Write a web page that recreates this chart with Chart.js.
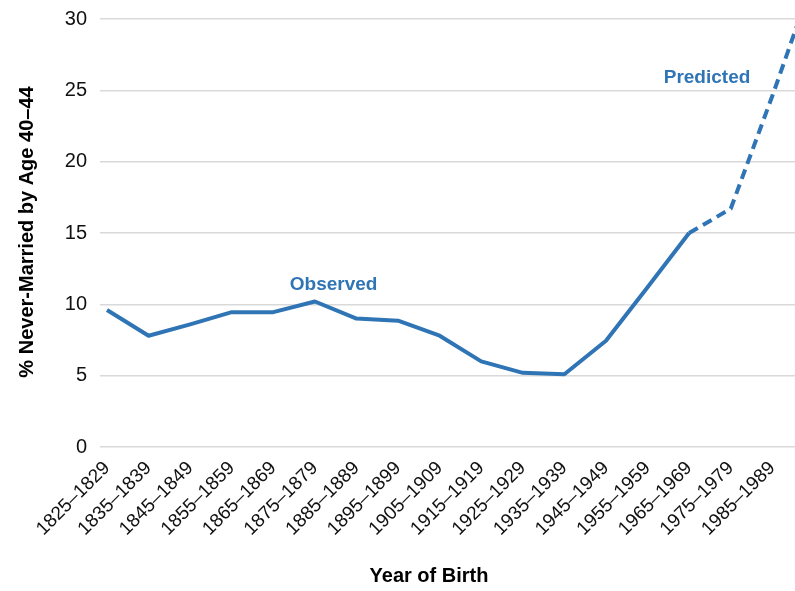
<!DOCTYPE html>
<html>
<head>
<meta charset="utf-8">
<script src="https://cdn.jsdelivr.net/npm/chart.js@4"></script>
<style>
    html, body { margin: 0; padding: 0; overflow: hidden; background: #ffffff; }
    #wrap { width: 795px; height: 591px; overflow: hidden; }
</style>
</head>
<body>
<div id="wrap">
    <canvas id="lineChart" width="832" height="591"></canvas>
</div>
<script>
// ✅ Data - birth cohorts (last one is cut off at the right edge in the original)
const cohorts = [
    "1825–1829", "1835–1839", "1845–1849", "1855–1859", "1865–1869", "1875–1879",
    "1885–1889", "1895–1899", "1905–1909", "1915–1919", "1925–1929", "1935–1939",
    "1945–1949", "1955–1959", "1965–1969", "1975–1979", "1985–1989", ""
];
const observed = [9.6, 7.8, 8.6, 9.45, 9.45, 10.2, 9.0, 8.85, 7.8, 6.0, 5.2, 5.1, 7.45, 11.2, 15.0,
    null, null, null];
const predicted = [null, null, null, null, null, null, null, null, null, null, null, null, null, null,
    15.0, 16.7, 24.6, 32.9];
const yTicks = [0, 5, 10, 15, 20, 25, 30];

// ✅ text notes placed on the data scales: [text, category position, value]
const notes = [
    ["Observed", 5.45, 11.4],
    ["Predicted", 14.43, 25.9]
];

const blue = "#2f75b5";
const font = "'Liberation Sans', Arial, Helvetica, sans-serif";

Chart.defaults.devicePixelRatio = 1;

// ✅ titles + notes drawn on top
const textPlugin = {
    id: "textPlugin",
    afterDraw(chart) {
        const c = chart.ctx;
        const x = chart.scales.x;
        const y = chart.scales.y;
        c.save();
        c.textAlign = "center";
        c.textBaseline = "middle";

        c.fillStyle = blue;
        c.font = "bold 19px " + font;
        notes.forEach(n => {
            c.fillText(n[0], x.getPixelForValue(n[1]), y.getPixelForValue(n[2]));
        });

        c.fillStyle = "#000000";
        c.font = "bold 20px " + font;
        c.fillText("Year of Birth", 429, 576);

        c.translate(27, 232);
        c.rotate(-Math.PI / 2);
        c.fillText("% Never-Married by Age 40–44", 0, 0);
        c.restore();
    }
};

const lineCtx = document.getElementById("lineChart").getContext("2d");
new Chart(lineCtx, {
    type: "line",
    data: {
        labels: cohorts,
        datasets: [{
            label: "Observed",
            data: observed,
            borderColor: blue,
            borderWidth: 4,
            borderJoinStyle: "round",
            pointRadius: 0,
            tension: 0
        }, {
            label: "Predicted",
            data: predicted,
            borderColor: blue,
            borderWidth: 4,
            borderDash: [10, 6],
            borderJoinStyle: "round",
            pointRadius: 0,
            tension: 0
        }]
    },
    options: {
        responsive: false,
        animation: false,
        layout: { padding: { top: 19, right: 6, left: 0, bottom: 0 } },
        plugins: {
            legend: { display: false },
            tooltip: { enabled: false }
        },
        scales: {
            x: {
                offset: false,
                grid: { display: false },
                border: { display: false },
                ticks: {
                    autoSkip: false,
                    minRotation: 45,
                    maxRotation: 45,
                    padding: 2,
                    color: "#111111",
                    font: { size: 19, family: font }
                },
                afterFit: s => { s.height = 144; }
            },
            y: {
                min: 0,
                max: 30,
                afterBuildTicks: s => { s.ticks = yTicks.map(v => ({ value: v })); },
                grid: { color: "#d9d9d9", lineWidth: 1.5, tickLength: 7 },
                border: { display: false },
                ticks: {
                    padding: 13,
                    color: "#111111",
                    font: { size: 20, family: font }
                },
                afterFit: s => {
                    s.width = 107;
                    s.paddingTop = 0;
                    s.paddingBottom = 0;
                }
            }
        }
    },
    plugins: [textPlugin]
});
</script>
</body>
</html>
